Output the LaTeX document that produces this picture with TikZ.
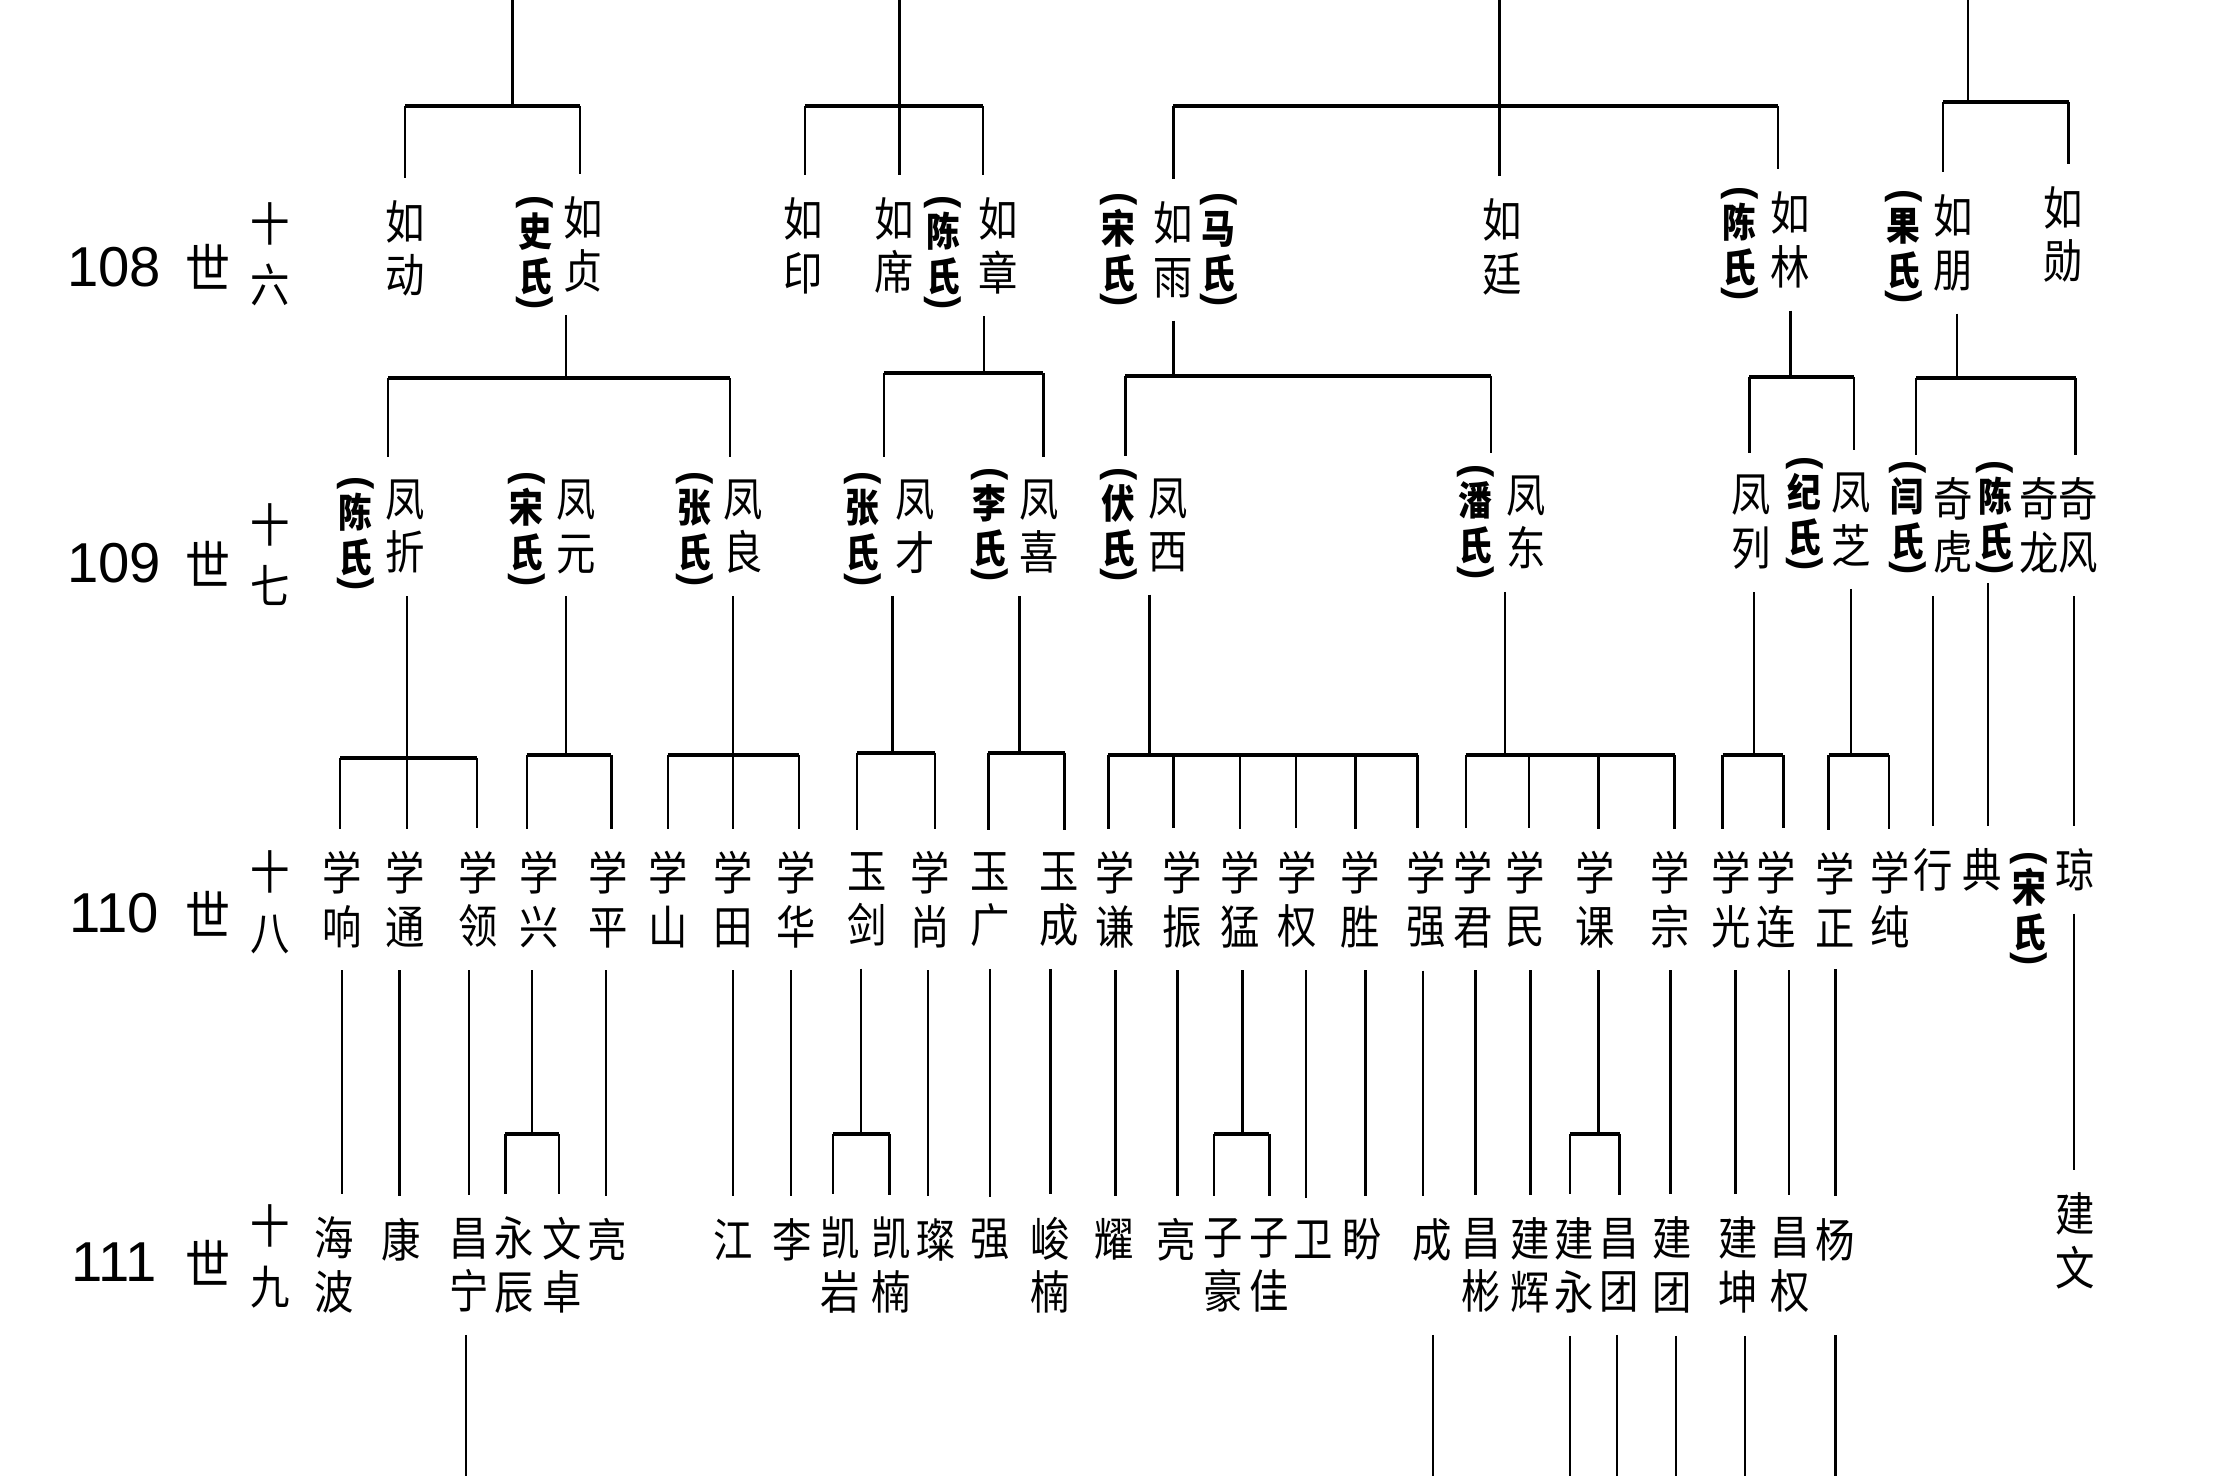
\documentclass[tikz,border=0pt]{standalone}
\usepackage{fontspec}
\newfontfamily\cjk[FakeStretch=0.85]{Noto Sans CJK SC}
\newfontfamily\numf{Liberation Sans}
\newcommand\pnt{\rotatebox[origin=c]{-90}{\numf\bfseries (}}
\newcommand\pnb{\rotatebox[origin=c]{-90}{\numf\bfseries )}}
\newcommand\wf[1]{\pnt\\[-3.3pt]#1\\氏\\[-6.9pt]\pnb}
\tikzset{
  pers/.style={font=\cjk\fontsize{14}{16.2}\selectfont, align=center, inner sep=0pt, outer ysep=2.4mm},
  wife/.style={font=\cjk\bfseries\fontsize{12}{13.6}\selectfont, align=center, inner sep=0pt, outer ysep=0.5mm},
  genno/.style={font=\numf\fontsize{17}{17}\selectfont, inner sep=0pt},
  shi/.style={font=\cjk\fontsize{16}{16}\selectfont, inner sep=0pt},
  ordn/.style={font=\cjk\fontsize{14}{18.5}\selectfont, align=center, inner sep=0pt},
  bar/.style={line width=1.2pt},
}
\begin{document}
\begin{tikzpicture}[x=0.15mm, y=-0.15mm, line width=0.7pt]
\useasboundingbox (0,0) rectangle (1568,1045);

% generations
\node[genno] (g108) at (81,189) {108};
\node[shi] (s108) at (147,189) {世};
\node[ordn] (o108) at (191,180) {十\\六};
\node[genno] (g109) at (81,399) {109};
\node[shi] (s109) at (147,399) {世};
\node[ordn] (o109) at (191,393) {十\\七};
\node[genno] (g110) at (81,647) {110};
\node[shi] (s110) at (147,647) {世};
\node[ordn] (o110) at (191,639) {十\\八};
\node[genno] (g111) at (81,894) {111};
\node[shi] (s111) at (147,894) {世};
\node[ordn] (o111) at (191,890) {十\\九};

% 108
\node[pers] (rudong) at (287,176) {如\\动};
\node[wife] (shi1) at (379,180) {\wf{史}};
\node[pers] (ruzhen) at (413,173) {如\\贞};
\node[pers] (ruyin) at (569,174) {如\\印};
\node[pers] (ruxi) at (633,174) {如\\席};
\node[wife] (chen1) at (668,180) {\wf{陈}};
\node[pers] (ruzhang) at (707,174) {如\\章};
\node[wife] (song1) at (792,178) {\wf{宋}};
\node[pers] (ruyu) at (831,177) {如\\雨};
\node[wife] (ma1) at (863,178) {\wf{马}};
\node[pers] (ruting) at (1064,175) {如\\廷};
\node[wife] (chen2) at (1232,174) {\wf{陈}};
\node[pers] (rulin) at (1268,170) {如\\林};
\node[wife] (guo1) at (1348,176) {\wf{果}};
\node[pers] (rupeng) at (1383,172) {如\\朋};
\node[pers] (ruxun) at (1461,166) {如\\勋};

% 109
\node[wife] (chen3) at (252,379) {\wf{陈}};
\node[pers] (fengzhe) at (287,373) {凤\\折};
\node[wife] (song2) at (373,376) {\wf{宋}};
\node[pers] (fengyuan) at (408,373) {凤\\元};
\node[wife] (zhang1) at (492,376) {\wf{张}};
\node[pers] (fengliang) at (526,373) {凤\\良};
\node[wife] (zhang2) at (611,376) {\wf{张}};
\node[pers] (fengcai) at (648,373) {凤\\才};
\node[wife] (li1) at (701,373) {\wf{李}};
\node[pers] (fengxi) at (736,373) {凤\\喜};
\node[wife] (fu1) at (792,373) {\wf{伏}};
\node[pers] (fengxix) at (827,372) {凤\\西};
\node[wife] (pan1) at (1045,371) {\wf{潘}};
\node[pers] (fengdong) at (1081,370) {凤\\东};
\node[pers] (fenglie) at (1240,370) {凤\\列};
\node[wife] (ji1) at (1278,365) {\wf{纪}};
\node[pers] (fengzhi) at (1311,368) {凤\\芝};
\node[wife] (yan1) at (1351,368) {\wf{闫}};
\node[pers] (qihu) at (1383,372) {奇\\虎};
\node[wife] (chen4) at (1413,368) {\wf{陈}};
\node[pers] (qilong) at (1444,372) {奇\\龙};
\node[pers] (qifeng) at (1472,372) {奇\\风};

% 110
\node[pers] (xuexiang) at (242,637) {学\\响};
\node[pers] (xuetong) at (287,637) {学\\通};
\node[pers] (xueling) at (339,637) {学\\领};
\node[pers] (xuexing) at (382,637) {学\\兴};
\node[pers] (xueping) at (431,637) {学\\平};
\node[pers] (xueshan) at (473,637) {学\\山};
\node[pers] (xuetian) at (519,637) {学\\田};
\node[pers] (xuehua) at (564,637) {学\\华};
\node[pers] (yujian) at (614,637) {玉\\剑};
\node[pers] (xueshang) at (659,637) {学\\尚};
\node[pers] (yuguang) at (701,637) {玉\\广};
\node[pers] (yucheng) at (750,637) {玉\\成};
\node[pers] (xueqian) at (790,637) {学\\谦};
\node[pers] (xuezhen) at (837,637) {学\\振};
\node[pers] (xuemeng) at (878,637) {学\\猛};
\node[pers] (xuequan) at (919,637) {学\\权};
\node[pers] (xuesheng) at (963,637) {学\\胜};
\node[pers] (xueqiang) at (1010,637) {学\\强};
\node[pers] (xuejun) at (1043,637) {学\\君};
\node[pers] (xuemin) at (1080,637) {学\\民};
\node[pers] (xueke) at (1130,637) {学\\课};
\node[pers] (xuezong) at (1183,637) {学\\宗};
\node[pers] (xueguang) at (1226,637) {学\\光};
\node[pers] (xuelian) at (1258,637) {学\\连};
\node[pers] (xuezheng) at (1300,637) {学\\正};
\node[pers] (xuechun) at (1339,637) {学\\纯};
\node[pers] (xing) at (1369,616) {行};
\node[pers] (dian) at (1404,616) {典};
\node[wife] (song3) at (1437,645) {\wf{宋}};
\node[pers] (qiong) at (1470,616) {琼};

% 111
\node[pers] (haibo) at (237,896) {海\\波};
\node[pers] (kang) at (284,878) {康};
\node[pers] (changning) at (332,896) {昌\\宁};
\node[pers] (yongchen) at (364,896) {永\\辰};
\node[pers] (wenzhuo) at (398,896) {文\\卓};
\node[pers] (liang1) at (430,878) {亮};
\node[pers] (jiang) at (519,878) {江};
\node[pers] (li2) at (561,878) {李};
\node[pers] (kaiyan) at (595,896) {凯\\岩};
\node[pers] (kainan) at (631,896) {凯\\楠};
\node[pers] (can) at (663,878) {璨};
\node[pers] (qiang) at (701,878) {强};
\node[pers] (junnan) at (744,896) {峻\\楠};
\node[pers] (yao) at (789,878) {耀};
\node[pers] (liang2) at (833,878) {亮};
\node[pers] (zihao) at (866,896) {子\\豪};
\node[pers] (zijia) at (899,896) {子\\佳};
\node[pers] (wei) at (930,878) {卫};
\node[pers] (pan2) at (965,878) {盼};
\node[pers] (cheng) at (1014,878) {成};
\node[pers] (changbin) at (1049,896) {昌\\彬};
\node[pers] (jianhui) at (1084,896) {建\\辉};
\node[pers] (jianyong) at (1115,896) {建\\永};
\node[pers] (changtuan) at (1147,896) {昌\\团};
\node[pers] (jiantuan) at (1184,896) {建\\团};
\node[pers] (jiankun) at (1231,896) {建\\坤};
\node[pers] (changquan) at (1268,896) {昌\\权};
\node[pers] (yang) at (1300,878) {杨};
\node[pers] (jianwen) at (1470,879) {建\\文};

% above 108
\draw (363,0) -- (363,75);
\draw[bar] (287,75) -- (411,75);
\draw (287,75) -- (287,0 |- rudong.north);
\draw (411,75) -- (411,0 |- ruzhen.north);
\draw (637,0) -- (637,0 |- ruxi.north);
\draw[bar] (570,75) -- (696,75);
\draw (570,75) -- (570,0 |- ruyin.north);
\draw (696,75) -- (696,0 |- ruzhang.north);
\draw (1062,0) -- (1062,0 |- ruting.north);
\draw[bar] (831,75) -- (1259,75);
\draw (831,75) -- (831,0 |- ruyu.north);
\draw (1259,75) -- (1259,0 |- rulin.north);
\draw (1394,0) -- (1394,72);
\draw[bar] (1376,72) -- (1465,72);
\draw (1376,72) -- (1376,0 |- rupeng.north);
\draw (1465,72) -- (1465,0 |- ruxun.north);

% 108 -> 109
\draw (401,0 |- ruzhen.south) -- (401,268);
\draw[bar] (275,268) -- (517,268);
\draw (275,268) -- (275,0 |- fengzhe.north);
\draw (517,268) -- (517,0 |- fengliang.north);
\draw (697,0 |- ruzhang.south) -- (697,264);
\draw[bar] (626,264) -- (739,264);
\draw (626,264) -- (626,0 |- fengcai.north);
\draw (739,264) -- (739,0 |- fengxi.north);
\draw (831,0 |- ruyu.south) -- (831,266);
\draw[bar] (797,266) -- (1056,266);
\draw (797,266) -- (797,0 |- fengxix.north);
\draw (1056,266) -- (1056,0 |- fengdong.north);
\draw (1268,0 |- rulin.south) -- (1268,267);
\draw[bar] (1239,267) -- (1313,267);
\draw (1239,267) -- (1239,0 |- fenglie.north);
\draw (1313,267) -- (1313,0 |- fengzhi.north);
\draw (1386,0 |- rupeng.south) -- (1386,268);
\draw[bar] (1357,268) -- (1470,268);
\draw (1357,268) -- (1357,0 |- qihu.north);
\draw (1470,268) -- (1470,0 |- qifeng.north);

% 109 -> 110
\draw (288,0 |- fengzhe.south) -- (288,0 |- xuetong.north);
\draw[bar] (241,537) -- (338,537);
\draw (241,537) -- (241,0 |- xuexiang.north);
\draw (338,537) -- (338,0 |- xueling.north);
\draw (401,0 |- fengyuan.south) -- (401,535);
\draw[bar] (373,535) -- (433,535);
\draw (373,535) -- (373,0 |- xuexing.north);
\draw (433,535) -- (433,0 |- xueping.north);
\draw (519,0 |- fengliang.south) -- (519,0 |- xuetian.north);
\draw[bar] (473,535) -- (566,535);
\draw (473,535) -- (473,0 |- xueshan.north);
\draw (566,535) -- (566,0 |- xuehua.north);
\draw (632,0 |- fengcai.south) -- (632,533);
\draw[bar] (607,533) -- (662,533);
\draw (607,533) -- (607,0 |- yujian.north);
\draw (662,533) -- (662,0 |- xueshang.north);
\draw (722,0 |- fengxi.south) -- (722,533);
\draw[bar] (700,533) -- (754,533);
\draw (700,533) -- (700,0 |- yuguang.north);
\draw (754,533) -- (754,0 |- yucheng.north);
\draw (814,0 |- fengxix.south) -- (814,535);
\draw[bar] (785,535) -- (1004,535);
\draw (785,535) -- (785,0 |- xueqian.north);
\draw (831,535) -- (831,0 |- xuezhen.north);
\draw (878,535) -- (878,0 |- xuemeng.north);
\draw (918,535) -- (918,0 |- xuequan.north);
\draw (960,535) -- (960,0 |- xuesheng.north);
\draw (1004,535) -- (1004,0 |- xueqiang.north);
\draw (1066,0 |- fengdong.south) -- (1066,535);
\draw[bar] (1038,535) -- (1186,535);
\draw (1038,535) -- (1038,0 |- xuejun.north);
\draw (1083,535) -- (1083,0 |- xuemin.north);
\draw (1132,535) -- (1132,0 |- xueke.north);
\draw (1186,535) -- (1186,0 |- xuezong.north);
\draw (1242,0 |- fenglie.south) -- (1242,535);
\draw[bar] (1220,535) -- (1263,535);
\draw (1220,535) -- (1220,0 |- xueguang.north);
\draw (1263,535) -- (1263,0 |- xuelian.north);
\draw (1311,0 |- fengzhi.south) -- (1311,535);
\draw[bar] (1295,535) -- (1338,535);
\draw (1295,535) -- (1295,0 |- xuezheng.north);
\draw (1338,535) -- (1338,0 |- xuechun.north);
\draw (1369,0 |- qihu.south) -- (1369,0 |- xing.north);
\draw (1408,0 |- chen4.south) -- (1408,0 |- dian.north);
\draw (1469,0 |- qifeng.south) -- (1469,0 |- qiong.north);

% 110 -> 111
\draw (242,0 |- xuexiang.south) -- (242,0 |- haibo.north);
\draw (283,0 |- xuetong.south) -- (283,0 |- kang.north);
\draw (332,0 |- xueling.south) -- (332,0 |- changning.north);
\draw (377,0 |- xuexing.south) -- (377,803);
\draw[bar] (358,803) -- (396,803);
\draw (358,803) -- (358,0 |- yongchen.north);
\draw (396,803) -- (396,0 |- wenzhuo.north);
\draw (429,0 |- xueping.south) -- (429,0 |- liang1.north);
\draw (519,0 |- xuetian.south) -- (519,0 |- jiang.north);
\draw (560,0 |- xuehua.south) -- (560,0 |- li2.north);
\draw (610,0 |- yujian.south) -- (610,803);
\draw[bar] (590,803) -- (630,803);
\draw (590,803) -- (590,0 |- kaiyan.north);
\draw (630,803) -- (630,0 |- kainan.north);
\draw (657,0 |- xueshang.south) -- (657,0 |- can.north);
\draw (701,0 |- yuguang.south) -- (701,0 |- qiang.north);
\draw (744,0 |- yucheng.south) -- (744,0 |- junnan.north);
\draw (790,0 |- xueqian.south) -- (790,0 |- yao.north);
\draw (834,0 |- xuezhen.south) -- (834,0 |- liang2.north);
\draw (880,0 |- xuemeng.south) -- (880,803);
\draw[bar] (860,803) -- (899,803);
\draw (860,803) -- (860,0 |- zihao.north);
\draw (899,803) -- (899,0 |- zijia.north);
\draw (925,0 |- xuequan.south) -- (925,0 |- wei.north);
\draw (967,0 |- xuesheng.south) -- (967,0 |- pan2.north);
\draw (1008,0 |- xueqiang.south) -- (1008,0 |- cheng.north);
\draw (1045,0 |- xuejun.south) -- (1045,0 |- changbin.north);
\draw (1084,0 |- xuemin.south) -- (1084,0 |- jianhui.north);
\draw (1132,0 |- xueke.south) -- (1132,803);
\draw[bar] (1112,803) -- (1147,803);
\draw (1112,803) -- (1112,0 |- jianyong.north);
\draw (1147,803) -- (1147,0 |- changtuan.north);
\draw (1183,0 |- xuezong.south) -- (1183,0 |- jiantuan.north);
\draw (1229,0 |- xueguang.south) -- (1229,0 |- jiankun.north);
\draw (1267,0 |- xuelian.south) -- (1267,0 |- changquan.north);
\draw (1300,0 |- xuezheng.south) -- (1300,0 |- yang.north);
\draw (1469,0 |- qiong.south) -- (1469,0 |- jianwen.north);

% below 111
\draw (330,0 |- changning.south) -- (330,1045);
\draw (1015,0 |- changbin.south) -- (1015,1045);
\draw (1112,0 |- jianyong.south) -- (1112,1045);
\draw (1145,0 |- changtuan.south) -- (1145,1045);
\draw (1187,0 |- jiantuan.south) -- (1187,1045);
\draw (1236,0 |- jiankun.south) -- (1236,1045);
\draw (1300,0 |- changquan.south) -- (1300,1045);
\end{tikzpicture}
\end{document}
